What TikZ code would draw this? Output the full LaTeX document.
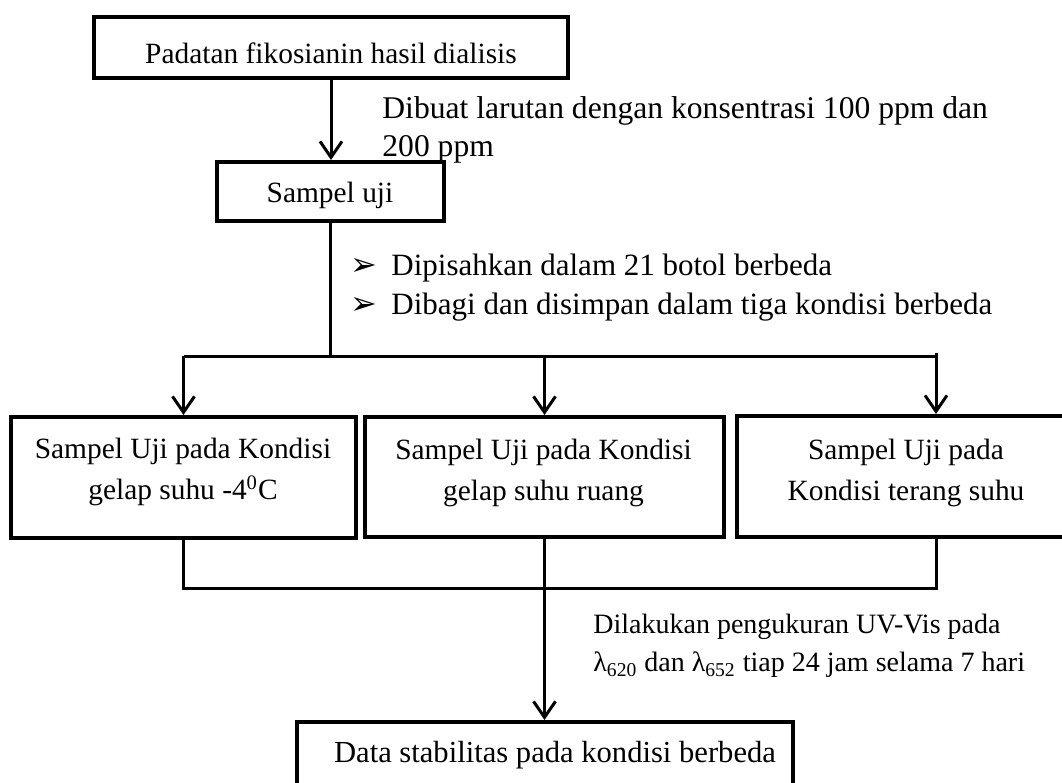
\documentclass[tikz,border=0pt]{standalone}
\usepackage{fontspec}
\setmainfont{Liberation Serif}
\newfontfamily\bulletfont{DejaVu Sans}
\usetikzlibrary{arrows.meta}

\begin{document}
\begin{tikzpicture}[x=0.5pt, y=-0.5pt,
		kotak/.style={draw, line width=2pt, inner sep=0pt},
		teks/.style={inner sep=0pt, font=\fontsize{14.7}{20.5}\selectfont},
		garis/.style={line width=1.5pt, line join=miter},
		panah/.style={line width=1.5pt, -{Straight Barb[length=8pt, width=11pt]}}]
		%%%%% START %%%%%
		
		\useasboundingbox (0,0) rectangle (1062,783);
		\clip (0,0) rectangle (1062,783);
		
		% kotak
		\node[kotak, minimum width=237pt, minimum height=30.5pt] (padatan) at (331, 47.5) {};
		\node[kotak, minimum width=113.5pt, minimum height=29.5pt] (sampel) at (330.5, 191.5) {};
		\node[kotak, minimum width=172.5pt, minimum height=60.5pt] (gelap) at (183.5, 477.5) {};
		\node[kotak, minimum width=179.5pt, minimum height=60pt] (ruang) at (544.5, 477) {};
		\node[kotak, minimum width=169pt, minimum height=60.5pt] (terang) at (906, 476.5) {};
		\node[kotak, minimum width=248pt, minimum height=39pt] (data) at (545, 761) {};
		
		% isi kotak
		\node[teks, anchor=base] (tpadatan) at (331, 63) {Padatan fikosianin hasil dialisis};
		\node[teks, anchor=base] (tsampel) at (330, 202) {Sampel uji};
		\node[teks, align=center, anchor=north] (tgelap) at (183, 438) {Sampel Uji pada Kondisi\\gelap suhu -4\textsuperscript{0}C};
		\node[teks, align=center, anchor=north] (truang) at (543.5, 439) {Sampel Uji pada Kondisi\\gelap suhu ruang};
		\node[teks, align=center, anchor=north] (tterang) at (906, 439) {Sampel Uji pada\\Kondisi terang suhu};
		\node[teks, anchor=base, font=\fontsize{15.3}{18}\selectfont] (tdata) at (555, 762) {Data stabilitas pada kondisi berbeda};
		
		% keterangan
		\node[teks, align=left, anchor=north west, font=\fontsize{15.8}{19}\selectfont] (dibuat) at (382, 96)
			{Dibuat larutan dengan konsentrasi 100 ppm dan\\200 ppm};
		\node[teks, align=left, anchor=north west, font=\fontsize{15.5}{19.5}\selectfont] (dipisah) at (350, 254)
			{\makebox[20.5pt][l]{\bulletfont\fontsize{16}{16}\selectfont ➢}Dipisahkan dalam 21 botol berbeda\\
			 \makebox[20.5pt][l]{\bulletfont\fontsize{16}{16}\selectfont ➢}Dibagi dan disimpan dalam tiga kondisi berbeda};
		\node[teks, align=left, anchor=north west, font=\fontsize{14}{19}\selectfont] (ukur) at (593, 614)
			{Dilakukan pengukuran UV-Vis pada\\λ\textsubscript{620} dan λ\textsubscript{652} tiap 24 jam selama 7 hari};
		
		% garis
		\coordinate (cabang) at (331, 356);
		\coordinate (kanan) at (936, 356);
		\coordinate (kumpul) at (544.5, 588);
		
		\draw[panah] (padatan.south) -- (padatan.south |- sampel.north);
		\draw[garis] (sampel.south) -- (sampel.south |- cabang);
		\draw[garis] (gelap.north |- cabang) -- (kanan);
		\draw[panah] (gelap.north |- cabang) -- (gelap.north);
		\draw[panah] (ruang.north |- cabang) -- (ruang.north);
		\draw[panah] ([yshift=1.5pt]kanan) -- (kanan |- terang.north);
		
		\draw[garis] (gelap.south) -- (gelap.south |- kumpul) -- (kanan |- kumpul) -- (kanan |- terang.south);
		\draw[panah] (ruang.south) -- (ruang.south |- data.north);
		
		%%%%% END %%%%%
	\end{tikzpicture}
\end{document}
